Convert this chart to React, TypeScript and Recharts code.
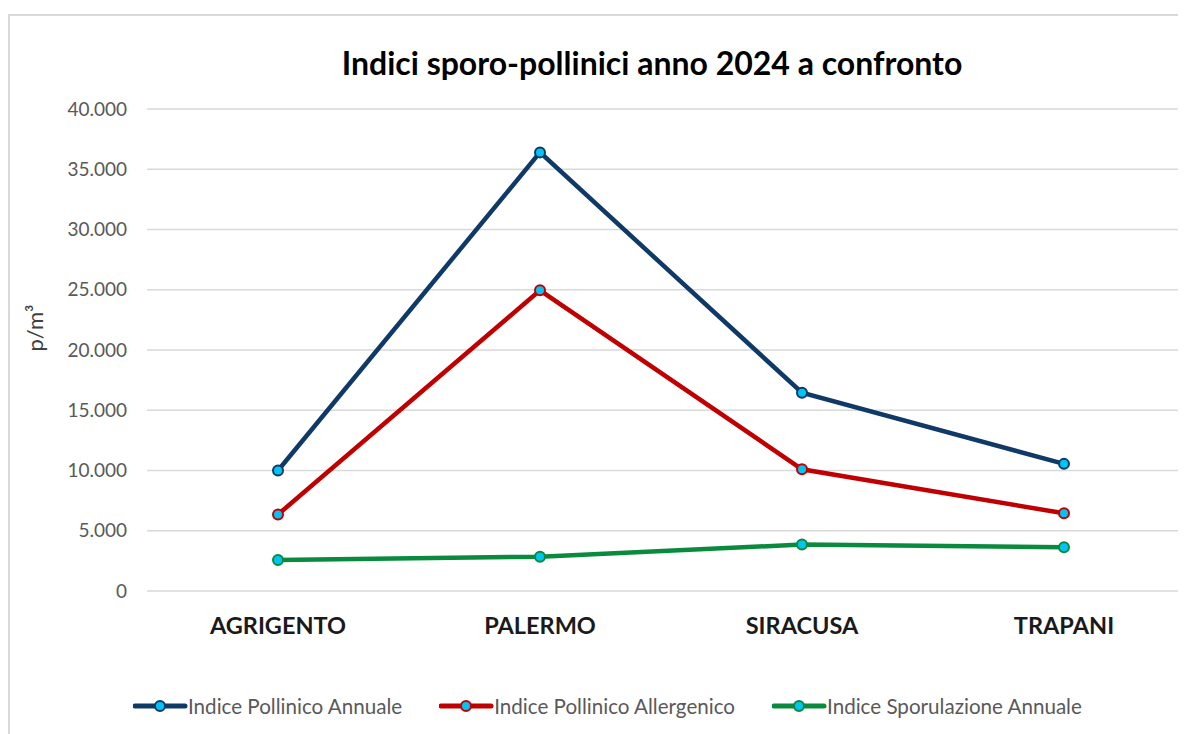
import { CartesianGrid, Line, LineChart, XAxis, YAxis } from "recharts";

const cities = ["AGRIGENTO", "PALERMO", "SIRACUSA", "TRAPANI"];
const pollinicoAnnuale = [10000, 36400, 16450, 10550];
const pollinicoAllergenico = [6350, 24950, 10100, 6450];
const sporulazioneAnnuale = [2570, 2850, 3850, 3630];
const yTicks = [0, 5000, 10000, 15000, 20000, 25000, 30000, 35000, 40000];

const seriesList = [
  { key: "annuale", name: "Indice Pollinico Annuale", color: "#0f3a67" },
  { key: "allergenico", name: "Indice Pollinico Allergenico", color: "#c00000" },
  { key: "sporulazione", name: "Indice Sporulazione Annuale", color: "#0a8a3c" },
];

const chartData = cities.map((city, i) => ({
  city,
  annuale: pollinicoAnnuale[i],
  allergenico: pollinicoAllergenico[i],
  sporulazione: sporulazioneAnnuale[i],
}));

const DOT_FILL = "#00c4f4";
const FONT = "Lato, 'Open Sans', sans-serif";

function formatTick(v: number): string {
  if (v === 0) return "0";
  return String(v).replace(/\B(?=(\d{3})+(?!\d))/g, ".");
}

function YLabel({ viewBox }: any) {
  const x = viewBox.x + 26;
  const y = viewBox.y + viewBox.height / 2 - 22;
  return (
    <text
      x={x}
      y={y}
      transform={`rotate(-90, ${x}, ${y})`}
      textAnchor="middle"
      dominantBaseline="central"
      fill="#404040"
      fontSize={22}
      fontFamily={FONT}
    >
      p/m³
    </text>
  );
}

function LegendRow() {
  return (
    <div
      style={{
        position: "absolute",
        left: 125,
        top: 686,
        display: "flex",
        gap: 37,
        fontFamily: FONT,
        fontSize: 20.6,
        color: "#595959",
        alignItems: "center",
        whiteSpace: "nowrap",
      }}
    >
      {seriesList.map((s) => (
        <div key={s.key} style={{ display: "flex", alignItems: "center" }}>
          <svg width={55} height={16}>
            <line x1={2} y1={8} x2={52} y2={8} stroke={s.color} strokeWidth={5} strokeLinecap="round" />
            <circle cx={27} cy={8} r={5} fill={DOT_FILL} stroke={s.color} strokeWidth={2} />
          </svg>
          <span>{s.name}</span>
        </div>
      ))}
    </div>
  );
}

export default function App() {
  return (
    <div
      style={{
        position: "relative",
        width: 1178,
        height: 726,
        overflow: "hidden",
        fontFamily: FONT,
      }}
    >
      <style>{"html, body { overflow: hidden; }"}</style>
      <div
        style={{
          position: "absolute",
          left: 0,
          top: 6,
          width: 2000,
          height: 2000,
          borderLeft: "2px solid #d9d9d9",
          borderTop: "2px solid #d9d9d9",
        }}
      />
      <div
        style={{
          position: "absolute",
          left: 0,
          top: 36,
          width: 1288,
          textAlign: "center",
          fontSize: 32,
          lineHeight: "38px",
          fontWeight: 700,
          color: "#000",
        }}
      >
        Indici sporo-pollinici anno 2024 a confronto
      </div>
      <div style={{ position: "absolute", left: 0, top: 0 }}>
        <LineChart
          width={1250}
          height={719}
          data={chartData}
          margin={{ top: 101, right: 63, bottom: 76, left: 0 }}
        >
          <CartesianGrid vertical={false} stroke="#d9d9d9" strokeWidth={1.5} />
          <XAxis
            dataKey="city"
            height={60}
            padding={{ left: 131, right: 131 }}
            axisLine={false}
            tickLine={false}
            tickSize={6}
            tickMargin={20}
            interval={0}
            tick={{ fontSize: 23.5, fontWeight: 700, fill: "#1a1a1a", fontFamily: FONT }}
          />
          <YAxis
            width={139}
            domain={[0, 40000]}
            ticks={yTicks}
            tickFormatter={formatTick}
            axisLine={false}
            tickLine={false}
            tickSize={6}
            tickMargin={14}
            tick={{ fontSize: 19, fill: "#595959", fontFamily: FONT }}
            label={<YLabel />}
          />
          {seriesList.map((s) => (
            <Line
              key={s.key}
              type="linear"
              dataKey={s.key}
              name={s.name}
              stroke={s.color}
              strokeWidth={4.5}
              dot={{ r: 5, fill: DOT_FILL, stroke: s.color, strokeWidth: 2 }}
              activeDot={false}
              isAnimationActive={false}
            />
          ))}
        </LineChart>
      </div>
      <LegendRow />
    </div>
  );
}
